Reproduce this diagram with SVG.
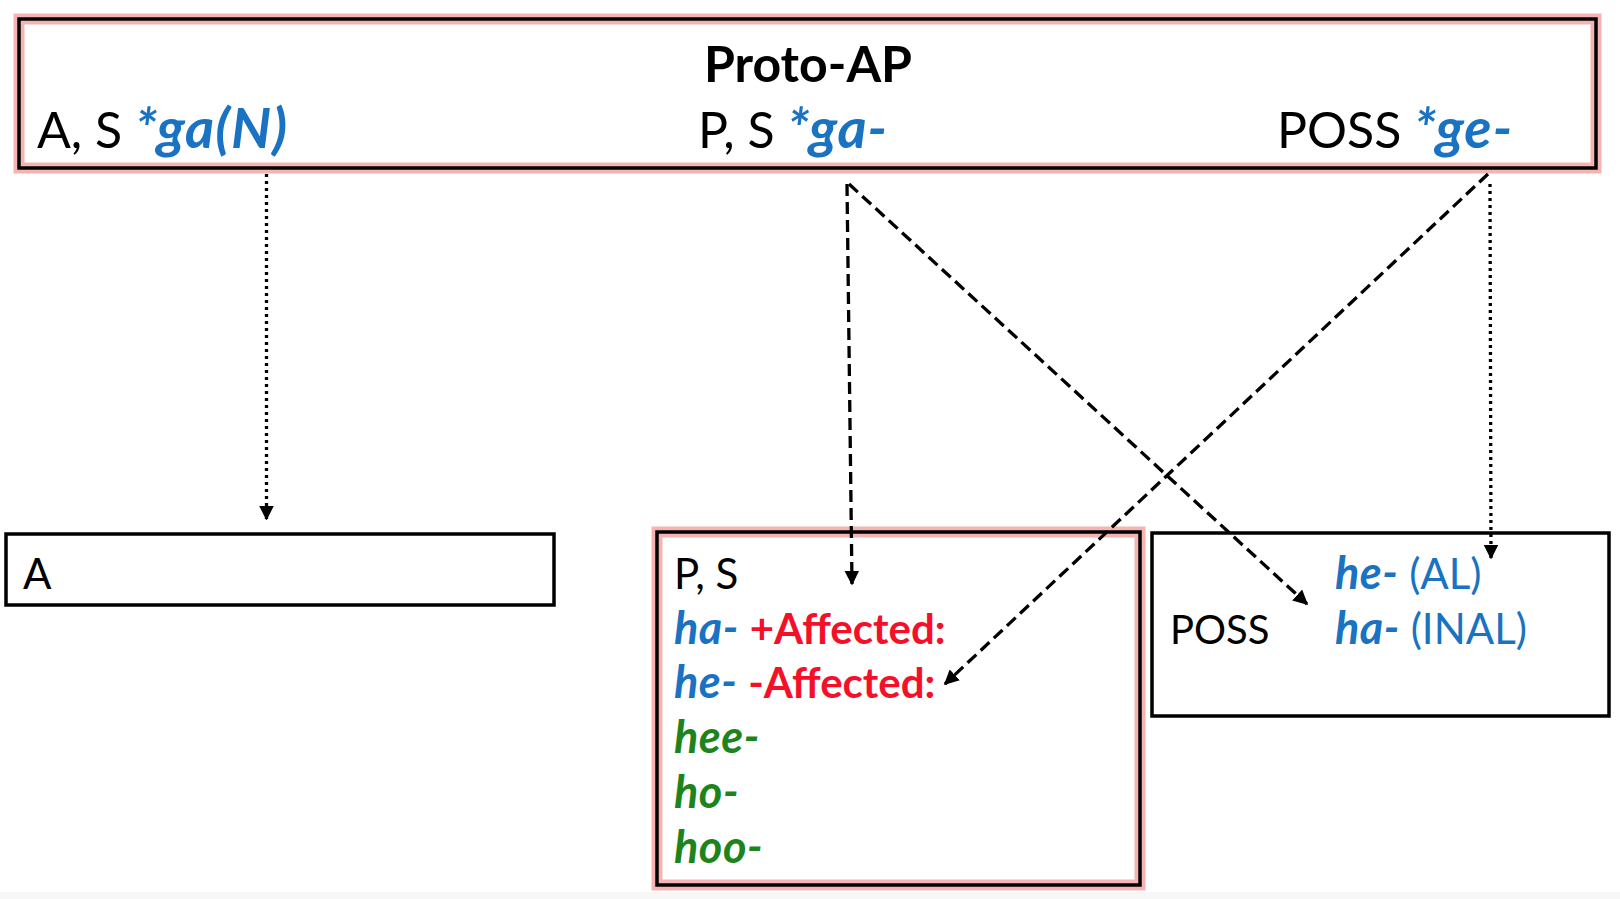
<svg xmlns="http://www.w3.org/2000/svg" width="1620" height="899" viewBox="0 0 1620 899">
<defs>
<style>
text{font-family:Lato,"Open Sans","Liberation Sans",sans-serif;font-size:42px;fill:#000}
.big{font-size:50px}
.b{font-weight:bold}
.bi{font-weight:bold;font-style:italic;font-size:45px;letter-spacing:0.5px}
.big .bi{font-size:56px;letter-spacing:1px}
.blue{fill:#1a72c2}
.red{fill:#f5102a}
.green{fill:#1d841d}
.glow{fill:none;stroke:#f6b3b3;stroke-width:11}
.box{fill:none;stroke:#000;stroke-width:3.5}
.dash{fill:none;stroke:#000;stroke-width:3.3;stroke-dasharray:12 6}
.dot{fill:none;stroke:#000;stroke-width:3.3;stroke-dasharray:3 4}
</style>
<marker id="ah" viewBox="0 0 10 10" refX="9" refY="5" markerWidth="4.5" markerHeight="4.5" orient="auto" markerUnits="strokeWidth">
<path d="M0,0 L10,5 L0,10 z" fill="#000"/>
</marker>
</defs>
<rect x="0" y="0" width="1620" height="899" fill="#fff"/>
<rect x="0" y="892" width="1620" height="7" fill="#f7f7f7"/>
<g id="proto">
<rect class="glow" x="19" y="19" width="1577" height="149"/>
<rect class="box" x="19" y="19" width="1577" height="149"/>
<text class="big b" x="808" y="82" text-anchor="middle">Proto-AP</text>
<text class="big" x="37" y="148">A, S <tspan class="bi blue">*ga(N)</tspan></text>
<text class="big" x="698" y="148">P, S <tspan class="bi blue">*ga-</tspan></text>
<text class="big" x="1277" y="148">POSS <tspan class="bi blue">*ge-</tspan></text>
</g>
<g id="boxA">
<rect class="box" x="6" y="534" width="548" height="71"/>
<text x="23" y="589">A</text>
</g>
<g id="boxPS">
<rect class="glow" x="657" y="532" width="483" height="353"/>
<rect class="box" x="657" y="532" width="483" height="353"/>
<text x="674" y="589">P, S</text>
<text x="674" y="644"><tspan class="bi blue">ha-</tspan> <tspan class="b red">+Affected:</tspan></text>
<text x="674" y="698"><tspan class="bi blue">he-</tspan> <tspan class="b red">-Affected:</tspan></text>
<text class="bi green" x="674" y="753">hee-</text>
<text class="bi green" x="674" y="808">ho-</text>
<text class="bi green" x="674" y="863">hoo-</text>
</g>
<g id="boxPOSS">
<rect class="box" x="1152" y="533" width="457" height="183"/>
<text x="1170" y="644" style="font-size:40px">POSS</text>
<text class="blue" x="1335" y="589"><tspan class="bi">he-</tspan> (AL)</text>
<text class="blue" x="1335" y="644"><tspan class="bi">ha-</tspan> (INAL)</text>
</g>
<g id="connectors">
<line class="dot" x1="266.5" y1="174" x2="266.5" y2="519" marker-end="url(#ah)"/>
<line class="dash" x1="847" y1="184" x2="852" y2="584" marker-end="url(#ah)"/>
<line class="dash" x1="849" y1="184" x2="1307" y2="604" marker-end="url(#ah)"/>
<line class="dash" x1="1488" y1="174" x2="945" y2="684" marker-end="url(#ah)"/>
<line class="dot" x1="1490" y1="184" x2="1491" y2="558" marker-end="url(#ah)"/>
</g>
</svg>
